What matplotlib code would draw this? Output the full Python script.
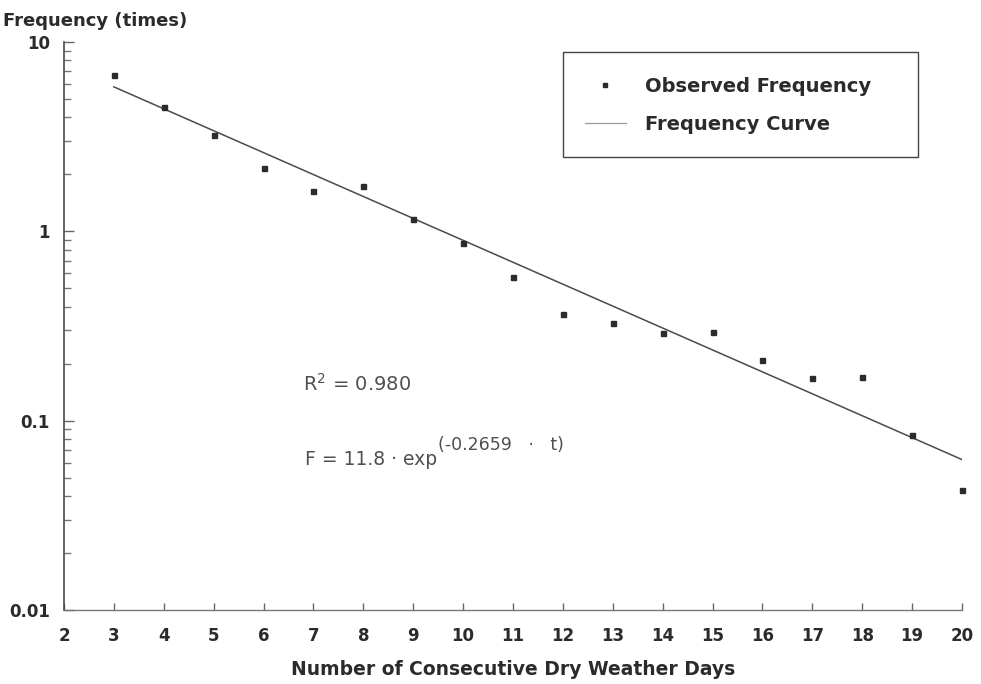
import matplotlib
matplotlib.use("Agg")
import matplotlib.pyplot as plt
import matplotlib.ticker as ticker
from matplotlib.lines import Line2D
from matplotlib.patches import Rectangle

plt.rcParams["font.family"] = ["DejaVu Sans"]
plt.rcParams["mathtext.default"] = "regular"

# observed frequency per number of consecutive dry days
days = [3, 4, 5, 6, 7, 8, 9, 10, 11, 12, 13, 14, 15, 16, 17, 18, 19, 20]
observed = [6.7, 4.55, 3.24, 2.17, 1.64, 1.73, 1.17, 0.865, 0.573, 0.366,
            0.328, 0.29, 0.295, 0.209, 0.168, 0.17, 0.084, 0.043]

# fitted curve end points (straight on the log axis)
curve_days = [3, 20]
curve_freq = [5.8, 0.0624]

x_ticks = list(range(2, 21))
y_ticks = [0.01, 0.1, 1, 10]
y_tick_labels = ["0.01", "0.1", "1", "10"]

DARK = "#2b2b2b"
LINE = "#4a4a4a"
NOTE = "#505050"

fig = plt.figure(figsize=(9.81, 6.84), dpi=100)
ax = fig.add_axes([0.0652, 0.108, 0.9154, 0.8305])

ax.plot(curve_days, curve_freq, color=LINE, linewidth=1.1)
ax.plot(days, observed, linestyle="none", marker="s", markersize=3.6,
        color=DARK, clip_on=False)

ax.set_yscale("log")
ax.set_ylim(0.01, 10)
ax.set_xlim(2, 20)

ax.spines["top"].set_visible(False)
ax.spines["right"].set_visible(False)
ax.spines["left"].set_color(LINE)
ax.spines["bottom"].set_color("#777777")
ax.spines["left"].set_linewidth(1.2)
ax.spines["bottom"].set_linewidth(1.0)

ax.set_xticks(x_ticks)
ax.set_xticklabels([str(v) for v in x_ticks])
ax.set_yticks(y_ticks)
ax.set_yticklabels(y_tick_labels)
ax.yaxis.set_minor_locator(ticker.LogLocator(base=10, subs=range(2, 10)))
ax.yaxis.set_minor_formatter(ticker.NullFormatter())

ax.tick_params(axis="x", direction="in", length=5, width=1, color="#666666",
               labelsize=12, labelcolor=DARK, pad=12)
ax.tick_params(axis="y", which="major", direction="in", length=7, width=1,
               color="#666666", labelsize=12, labelcolor=DARK, pad=10)
ax.tick_params(axis="y", which="minor", direction="in", length=5, width=1,
               color="#777777")
for lab in ax.get_xticklabels() + ax.get_yticklabels():
    lab.set_fontweight("bold")

fig.text(0.003, 0.970, "Frequency (times)", fontsize=13, fontweight="bold",
         color=DARK, ha="left", va="center")
ax.set_xlabel("Number of Consecutive Dry Weather Days", fontsize=13.5,
              fontweight="bold", color=DARK, labelpad=11)

ax.text(0.266, 0.398, "$R^{2}$ = 0.980", transform=ax.transAxes,
        fontsize=14, color=NOTE, ha="left", va="center")
base = ax.text(0.268, 0.266, "F = 11.8 \u00b7 exp", transform=ax.transAxes,
               fontsize=13.5, color=NOTE, ha="left", va="center")
ax.annotate("(-0.2659   \u00b7   t)", xy=(1.0, 0.75), xycoords=base,
            xytext=(1, 0), textcoords="offset points",
            fontsize=12.5, color=NOTE, ha="left", va="bottom")

# legend: frame drawn as a plain rectangle
fig.patches.append(Rectangle((0.574, 0.7705), 0.362, 0.1535,
                             transform=fig.transFigure, fill=False,
                             edgecolor="#444444", linewidth=1.0))
handles = [
    Line2D([], [], linestyle="none", marker="s", markersize=3.2, color=DARK),
    Line2D([], [], color="#999999", linewidth=0.9),
]
ax.legend(handles, ["Observed Frequency", "Frequency Curve"],
          loc="upper left", bbox_to_anchor=(0.596, 0.888),
          bbox_transform=fig.transFigure, frameon=False,
          prop={"size": 14, "weight": "bold"}, labelcolor=DARK,
          borderpad=0, labelspacing=1.0, handlelength=2.1,
          handletextpad=1.0, borderaxespad=0)

fig.savefig("out.png", dpi=100, facecolor="white")
